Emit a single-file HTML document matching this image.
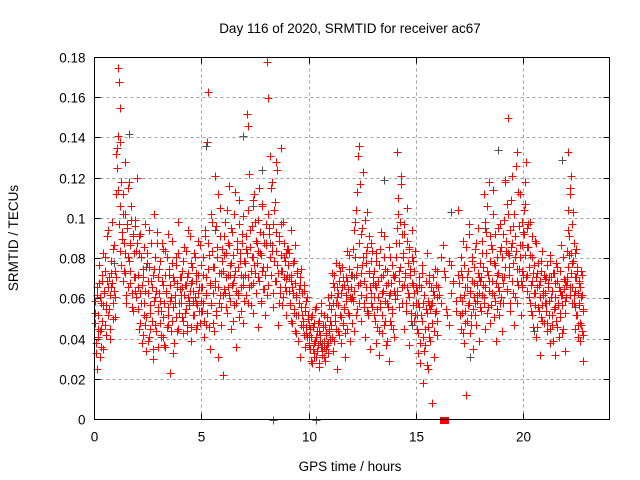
<!DOCTYPE html>
<html><head><meta charset="utf-8"><style>
body{margin:0;background:#fff}
svg{display:block;font-family:"Liberation Sans",sans-serif}
</style></head><body>
<svg id="chart" width="640" height="480" viewBox="0 0 640 480">
<text x="350" y="33" font-size="13.5" text-anchor="middle">Day 116 of 2020, SRMTID for receiver ac67</text>
<text x="350" y="471" font-size="13.5" text-anchor="middle">GPS time / hours</text>
<text transform="translate(18,238) rotate(-90)" font-size="13.5" text-anchor="middle">SRMTID / TECUs</text>
<g id="grid"></g>
<g id="ticks"></g>
<g id="gray"></g>
<g id="red"></g>
<rect x="94.5" y="57.5" width="515" height="362" fill="none" stroke="#000" stroke-width="1"/>
</svg>
<script>
const xTicks=[0,5,10,15,20];
const yTicks=[0,0.02,0.04,0.06,0.08,0.1,0.12,0.14,0.16,0.18];
const yTickLabels=["0","0.02","0.04","0.06","0.08","0.1","0.12","0.14","0.16","0.18"];
const redHours=[0,1,2,3,4,5,6,7,8,9,10,11,12,13,14,15,16,17,18,19,20,21,22];
const redValues=[
[.053,.038,.062,.025,.045,.068,.031,.058,.072,.049,.035,.064,.081,.057,.042,.069,.094,.055,.04,.073,.066,.098,.05,.087,.061,.071],
[.112,.135,.175,.168,.155,.138,.118,.09,.102,.074,.128,.083,.062,.097,.115,.079,.068,.088,.106,.056,.092,.071,.064,.099,.084,.12],
[.066,.045,.083,.092,.058,.038,.071,.052,.086,.047,.034,.078,.063,.094,.041,.057,.069,.049,.03,.075,.102,.061,.044,.088,.054,.036],
[.075,.059,.042,.088,.067,.051,.037,.084,.063,.046,.092,.056,.072,.023,.061,.078,.049,.033,.069,.058,.081,.044,.066,.098,.053,.071],
[.062,.051,.074,.043,.086,.067,.055,.071,.047,.094,.059,.064,.039,.078,.069,.052,.083,.061,.045,.073,.057,.089,.066,.048,.077,.054],
[.054,.072,.041,.091,.063,.047,.138,.163,.082,.068,.035,.058,.098,.076,.044,.121,.066,.052,.086,.031,.073,.062,.105,.056,.079,.022],
[.082,.065,.098,.071,.053,.088,.116,.062,.077,.045,.093,.068,.057,.102,.074,.036,.085,.063,.109,.051,.079,.066,.092,.048,.071,.059],
[.072,.085,.152,.146,.058,.122,.094,.067,.081,.109,.053,.077,.098,.063,.088,.071,.046,.115,.083,.059,.106,.074,.092,.065,.052,.087],
[.062,.178,.16,.095,.131,.072,.118,.084,.056,.104,.069,.093,.128,.077,.047,.089,.063,.135,.074,.057,.098,.081,.066,.052,.07,.085],
[.085,.071,.058,.094,.049,.066,.078,.053,.087,.044,.062,.073,.039,.058,.067,.031,.075,.052,.046,.064,.036,.056,.043,.061,.05,.038],
[.042,.035,.051,.028,.046,.038,.031,.055,.041,.034,.048,.026,.044,.039,.058,.032,.047,.036,.052,.029,.043,.037,.061,.033,.045,.04],
[.055,.041,.068,.034,.072,.049,.058,.025,.063,.044,.077,.052,.038,.066,.047,.071,.056,.031,.062,.045,.069,.053,.082,.039,.06,.048],
[.061,.085,.044,.098,.072,.113,.055,.131,.136,.068,.049,.092,.077,.123,.058,.041,.083,.066,.103,.052,.074,.035,.088,.063,.056,.071],
[.052,.067,.038,.079,.046,.061,.032,.085,.056,.071,.043,.064,.091,.049,.075,.037,.058,.068,.029,.063,.081,.047,.055,.072,.041,.06],
[.062,.088,.133,.11,.074,.056,.098,.117,.066,.081,.045,.092,.071,.058,.105,.063,.086,.037,.075,.053,.094,.067,.079,.049,.084,.058],
[.045,.058,.033,.067,.028,.052,.073,.041,.018,.062,.037,.055,.083,.046,.025,.068,.039,.057,.008,.048,.064,.031,.075,.054,.042,.061],
[.062,.081,.074,.055,.047,.077,.068,.059,.072],
[.061,.045,.074,.053,.089,.038,.066,.048,.012,.071,.057,.097,.043,.064,.052,.079,.035,.068,.058,.085,.047,.062,.073,.039,.056,.069],
[.054,.083,.067,.112,.061,.045,.093,.074,.056,.118,.069,.048,.087,.063,.102,.051,.078,.059,.039,.072,.095,.066,.052,.084,.061,.044],
[.058,.092,.071,.119,.084,.065,.15,.102,.076,.054,.109,.088,.063,.096,.047,.081,.126,.069,.058,.113,.075,.087,.052,.098,.066,.072],
[.104,.118,.128,.086,.072,.097,.061,.082,.054,.091,.069,.046,.077,.063,.088,.041,.073,.056,.067,.032,.079,.051,.084,.062,.048,.07],
[.058,.071,.044,.066,.052,.079,.038,.061,.047,.073,.055,.032,.068,.049,.076,.057,.041,.064,.053,.087,.062,.045,.07,.034,.059,.067],
[.071,.133,.094,.082,.066,.115,.121,.078,.058,.103,.088,.062,.045,.083,.071,.052,.076,.041,.068,.058,.039,.074,.047,.062,.054,.029]
];
const redValues2=[
[.048,.059,.033,.066,.052,.041,.077,.061,.044,.036,.069,.057,.083,.063,.047,.074,.055,.091,.066,.052,.071,.062,.045,.079,.068,.058,.085,.064,.051,.074],
[.132,.125,.141,.114,.097,.106,.084,.077,.093,.069,.112,.088,.073,.102,.058,.095,.081,.066,.118,.087,.074,.099,.063,.091,.054,.083,.071,.096,.061,.088],
[.072,.055,.091,.063,.048,.081,.067,.042,.075,.058,.097,.064,.051,.083,.039,.069,.076,.053,.045,.088,.066,.072,.035,.059,.081,.047,.064,.093,.056,.071],
[.063,.048,.079,.054,.069,.041,.085,.058,.072,.036,.064,.081,.052,.047,.075,.059,.067,.044,.089,.056,.071,.038,.062,.077,.051,.068,.045,.083,.058,.065],
[.071,.058,.066,.049,.079,.062,.053,.084,.067,.044,.073,.061,.057,.091,.068,.046,.076,.059,.064,.052,.081,.069,.058,.047,.072,.063,.054,.087,.066,.059],
[.066,.058,.081,.049,.094,.071,.062,.053,.088,.075,.046,.067,.102,.057,.084,.063,.048,.076,.069,.096,.054,.081,.112,.066,.058,.091,.073,.047,.085,.062],
[.074,.091,.063,.083,.056,.104,.072,.066,.087,.059,.078,.095,.067,.049,.082,.071,.113,.064,.058,.089,.076,.062,.097,.083,.054,.072,.088,.067,.101,.079],
[.078,.062,.091,.083,.071,.104,.066,.086,.074,.057,.096,.081,.068,.112,.073,.089,.063,.078,.099,.084,.069,.093,.058,.082,.107,.076,.065,.088,.072,.097],
[.088,.076,.102,.067,.092,.081,.115,.072,.087,.063,.097,.079,.108,.069,.084,.124,.073,.058,.091,.066,.082,.097,.074,.061,.088,.071,.079,.064,.083,.072],
[.077,.064,.083,.057,.069,.072,.048,.063,.079,.055,.068,.061,.043,.074,.052,.065,.058,.071,.047,.056,.063,.049,.067,.042,.054,.046,.059,.041,.052,.047],
[.037,.045,.029,.041,.052,.035,.048,.033,.039,.056,.031,.044,.037,.049,.028,.042,.036,.053,.034,.046,.039,.031,.047,.042,.035,.051,.038,.044,.057,.049],
[.062,.047,.073,.058,.039,.066,.052,.078,.045,.061,.057,.069,.042,.074,.063,.051,.076,.048,.067,.055,.043,.071,.059,.084,.065,.052,.075,.061,.072,.066],
[.072,.059,.094,.064,.081,.052,.104,.076,.067,.088,.058,.117,.073,.062,.095,.081,.056,.069,.099,.078,.061,.086,.053,.073,.091,.066,.079,.058,.084,.068],
[.061,.074,.049,.066,.083,.055,.069,.044,.077,.058,.093,.063,.052,.072,.047,.081,.059,.067,.039,.074,.056,.086,.062,.049,.068,.053,.077,.045,.064,.071],
[.072,.081,.095,.064,.102,.088,.069,.076,.121,.092,.058,.083,.067,.097,.073,.054,.089,.066,.078,.061,.085,.072,.049,.068,.081,.057,.074,.063,.052,.066],
[.052,.064,.043,.071,.056,.038,.066,.049,.077,.058,.034,.062,.045,.069,.053,.027,.059,.072,.041,.055,.066,.048,.058,.071,.044,.062,.053,.067,.049,.074],
[.066,.058,.087,.071,.052,.079,.063,.069,.054,.104],
[.068,.052,.081,.059,.071,.043,.077,.062,.054,.086,.066,.049,.074,.058,.092,.063,.047,.081,.069,.055,.076,.061,.052,.088,.067,.059,.095,.071,.063,.078],
[.071,.062,.089,.076,.058,.098,.066,.083,.053,.106,.072,.064,.091,.079,.057,.085,.069,.114,.062,.077,.092,.068,.055,.081,.073,.064,.097,.058,.086,.071],
[.081,.068,.099,.076,.118,.089,.064,.107,.083,.072,.094,.058,.086,.121,.069,.078,.102,.091,.061,.084,.133,.075,.067,.096,.081,.112,.069,.087,.074,.093],
[.092,.082,.107,.071,.095,.064,.086,.076,.058,.098,.067,.081,.052,.073,.063,.089,.057,.071,.046,.066,.078,.054,.069,.061,.074,.057,.049,.064,.072,.058],
[.063,.054,.077,.048,.068,.059,.082,.045,.071,.052,.064,.039,.073,.061,.056,.078,.046,.069,.058,.066,.051,.074,.062,.043,.057,.081,.065,.053,.069,.061],
[.084,.069,.104,.076,.091,.062,.112,.083,.073,.097,.066,.079,.088,.058,.071,.064,.085,.052,.074,.063,.047,.069,.057,.066,.048,.061,.044,.072,.055,.042]
];
const redEndHour=22.8;
const grayTimes=[0.3,0.9,1.6,2.4,3.1,3.9,4.4,5.2,5.6,6.3,6.9,7.4,7.8,8.2,8.8,9.4,10.6,11.3,12.1,12.7,13.5,14.1,14.8,15.6,16.6,17.5,18.2,18.8,19.3,19.9,20.5,21.2,21.8,22.4];
const grayValues=[.045,.078,.142,.076,.041,.083,.058,.136,.094,.072,.141,.106,.124,.088,.061,.052,.038,.066,.071,.054,.119,.062,.047,.057,.103,.031,.095,.134,.082,.067,.044,.071,.129,.056];
const zeroRedTimes=[16.3];
const zeroGrayTimes=[8.3,10.3];

const NS="http://www.w3.org/2000/svg";
const X0=94.5,X1=609.5,Y0=419.5,Y1=57.5,XMAX=24,YMAX=0.18;
const xs=v=>X0+(X1-X0)*v/XMAX;
const ys=v=>Y0-(Y0-Y1)*v/YMAX;
function mk(tag,attrs,parent){const e=document.createElementNS(NS,tag);for(const k in attrs)e.setAttribute(k,attrs[k]);parent.appendChild(e);return e;}
const grid=document.getElementById('grid'),ticks=document.getElementById('ticks');
xTicks.forEach(t=>{
  const x=Math.round(xs(t)-0.5)+0.5;
  if(t>0){const g=mk('line',{x1:x,x2:x,y1:Y0,y2:Y1,stroke:'#a0a0a0','stroke-dasharray':'3,3','stroke-width':1},grid);
  
  }
  mk('line',{x1:x,x2:x,y1:Y0,y2:Y0-6,stroke:'#000'},ticks);
  mk('line',{x1:x,x2:x,y1:Y1,y2:Y1+6,stroke:'#000'},ticks);
  const l=mk('text',{x:x,y:Y0+22,'font-size':13.5,'text-anchor':'middle'},ticks);l.textContent=t;
  
  
});
yTicks.forEach((t,i)=>{
  const y=Math.round(ys(t)-0.5)+0.5;
  if(t>0&&t<YMAX){const g=mk('line',{x1:X0,x2:X1,y1:y,y2:y,stroke:'#a0a0a0','stroke-dasharray':'3,3','stroke-width':1},grid);
  
  }
  mk('line',{x1:X0,x2:X0+6,y1:y,y2:y,stroke:'#000'},ticks);
  mk('line',{x1:X1,x2:X1-6,y1:y,y2:y,stroke:'#000'},ticks);
  const l=mk('text',{x:X0-9,y:y+5,'font-size':13.5,'text-anchor':'end'},ticks);l.textContent=yTickLabels[i];
  
  
});
function cross(t,v,color,parent){
  const x=Math.round(xs(t))+0.5,y=Math.round(ys(v))+0.5;
  return mk('path',{d:`M${x-4} ${y}h8M${x} ${y-4}v8`,stroke:color,'stroke-width':1,fill:'none'},parent);
}
const gray=document.getElementById('gray'),red=document.getElementById('red');
grayTimes.forEach((t,i)=>{
  const p=cross(t,grayValues[i],'#505050',gray);
  
  
});
zeroGrayTimes.forEach(t=>{
  const p=cross(t,0,'#505050',gray);
  
  
});
function drawSet(set,offset){
  redHours.forEach((h,hi)=>{
    const vals=set[hi];
    const span=Math.min(1,redEndHour-h);
    vals.forEach((v,i)=>{
      const t=h+span*(i+offset)/vals.length;
      const p=cross(t,v,'#ff0000',red);
      
      
    });
  });
}
drawSet(redValues,0.5);
drawSet(redValues2,0.25);
zeroRedTimes.forEach(t=>{
  const r=mk('rect',{x:Math.round(xs(t))-4,y:Math.round(ys(0))-3,width:9,height:7,fill:'#ff0000'},red);
  
  
});
</script>
</body></html>
